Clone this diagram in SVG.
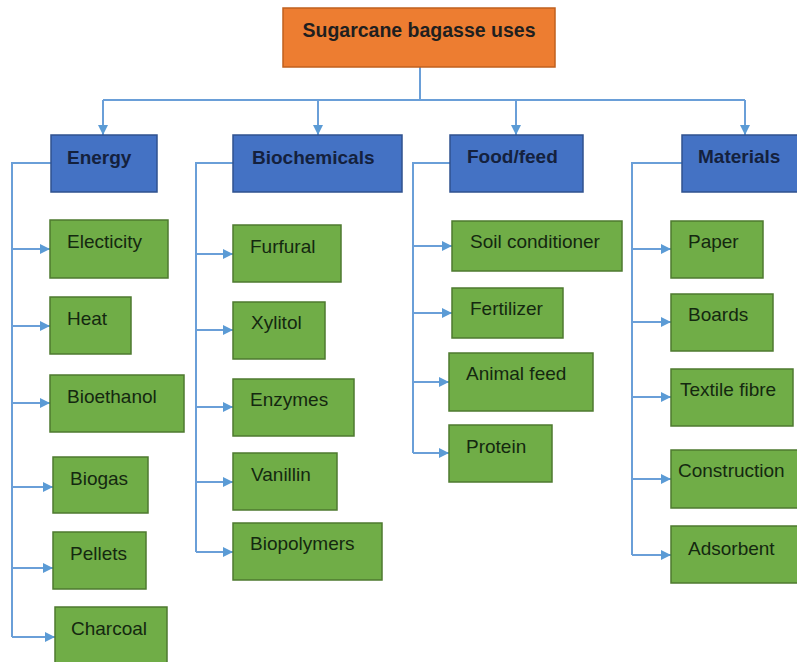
<svg xmlns="http://www.w3.org/2000/svg" width="797" height="662" viewBox="0 0 797 662">
<defs>
<marker id="arr" markerUnits="userSpaceOnUse" markerWidth="10" markerHeight="10" refX="10" refY="5" orient="auto">
<path d="M0,0 L10,5 L0,10 z" fill="#5B9BD5"/>
</marker>
<style>
.root{fill:#ED7D31;stroke:#C0601E;stroke-width:1.5}
.cat{fill:#4472C4;stroke:#2F528F;stroke-width:1.5}
.leaf{fill:#70AD47;stroke:#4E7A2F;stroke-width:1.5}
.tr{font-family:"Liberation Sans",Arial,sans-serif;font-weight:bold;font-size:19.5px;fill:#1F1F1F;text-anchor:middle}
.tc{font-family:"Liberation Sans",Arial,sans-serif;font-weight:bold;font-size:19px;fill:#14213D}
.tl{font-family:"Liberation Sans",Arial,sans-serif;font-size:19px;fill:#142810}
.ln{fill:none;stroke:#6A9FD8;stroke-width:2}
.ar{fill:none;stroke:#6A9FD8;stroke-width:2;marker-end:url(#arr)}
</style>
</defs>
<rect width="797" height="662" fill="#FFFFFF"/>
<g id="connectors">
<path class="ln" d="M420,67 V100 M103,100 H745"/>
<path class="ar" d="M103,100 V135"/>
<path class="ar" d="M318,100 V135"/>
<path class="ar" d="M516,100 V135"/>
<path class="ar" d="M745,100 V135"/>
<path class="ln" d="M51,163 H12 V637"/>
<path class="ar" d="M12,249 H50"/>
<path class="ar" d="M12,326 H50"/>
<path class="ar" d="M12,403 H50"/>
<path class="ar" d="M12,487 H53"/>
<path class="ar" d="M12,568 H53"/>
<path class="ar" d="M12,637 H55"/>
<path class="ln" d="M233,163 H196 V552"/>
<path class="ar" d="M196,254 H233"/>
<path class="ar" d="M196,330 H233"/>
<path class="ar" d="M196,407 H233"/>
<path class="ar" d="M196,482 H233"/>
<path class="ar" d="M196,552 H233"/>
<path class="ln" d="M450,163 H413 V453"/>
<path class="ar" d="M413,246 H452"/>
<path class="ar" d="M413,313 H452"/>
<path class="ar" d="M413,382 H449"/>
<path class="ar" d="M413,453 H449"/>
<path class="ln" d="M682,163 H632 V555"/>
<path class="ar" d="M632,249 H671"/>
<path class="ar" d="M632,322 H671"/>
<path class="ar" d="M632,397 H671"/>
<path class="ar" d="M632,479 H671"/>
<path class="ar" d="M632,555 H671"/>
</g>
<g id="root"><rect class="root" x="283" y="8" width="272" height="59"/><text class="tr" x="419" y="37">Sugarcane bagasse uses</text></g>
<g id="energy"><rect class="cat" x="51" y="135" width="106" height="57"/><text class="tc" x="67" y="164">Energy</text></g>
<g id="biochemicals"><rect class="cat" x="233" y="135" width="169" height="57"/><text class="tc" x="252" y="164">Biochemicals</text></g>
<g id="foodfeed"><rect class="cat" x="450" y="135" width="133" height="57"/><text class="tc" x="467" y="163">Food/feed</text></g>
<g id="materials"><rect class="cat" x="682" y="135" width="116" height="57"/><text class="tc" x="698" y="163">Materials</text></g>
<g id="electicity"><rect class="leaf" x="50" y="220" width="118" height="58"/><text class="tl" x="67" y="248">Electicity</text></g>
<g id="heat"><rect class="leaf" x="50" y="297" width="81" height="57"/><text class="tl" x="67" y="325">Heat</text></g>
<g id="bioethanol"><rect class="leaf" x="50" y="375" width="134" height="57"/><text class="tl" x="67" y="403">Bioethanol</text></g>
<g id="biogas"><rect class="leaf" x="53" y="457" width="95" height="56"/><text class="tl" x="70" y="485">Biogas</text></g>
<g id="pellets"><rect class="leaf" x="53" y="532" width="93" height="57"/><text class="tl" x="70" y="560">Pellets</text></g>
<g id="charcoal"><rect class="leaf" x="55" y="607" width="112" height="58"/><text class="tl" x="71" y="635">Charcoal</text></g>
<g id="furfural"><rect class="leaf" x="233" y="225" width="108" height="57"/><text class="tl" x="250" y="253">Furfural</text></g>
<g id="xylitol"><rect class="leaf" x="233" y="302" width="92" height="57"/><text class="tl" x="251" y="329">Xylitol</text></g>
<g id="enzymes"><rect class="leaf" x="233" y="379" width="121" height="57"/><text class="tl" x="250" y="406">Enzymes</text></g>
<g id="vanillin"><rect class="leaf" x="233" y="453" width="104" height="57"/><text class="tl" x="251" y="481">Vanillin</text></g>
<g id="biopolymers"><rect class="leaf" x="233" y="523" width="149" height="57"/><text class="tl" x="250" y="550">Biopolymers</text></g>
<g id="soil"><rect class="leaf" x="452" y="221" width="170" height="50"/><text class="tl" x="470" y="248">Soil conditioner</text></g>
<g id="fertilizer"><rect class="leaf" x="452" y="288" width="111" height="50"/><text class="tl" x="470" y="315">Fertilizer</text></g>
<g id="animalfeed"><rect class="leaf" x="449" y="353" width="144" height="58"/><text class="tl" x="466" y="380">Animal feed</text></g>
<g id="protein"><rect class="leaf" x="449" y="425" width="103" height="57"/><text class="tl" x="466" y="453">Protein</text></g>
<g id="paper"><rect class="leaf" x="671" y="221" width="92" height="57"/><text class="tl" x="688" y="248">Paper</text></g>
<g id="boards"><rect class="leaf" x="671" y="294" width="102" height="57"/><text class="tl" x="688" y="321">Boards</text></g>
<g id="textile"><rect class="leaf" x="671" y="369" width="122" height="57"/><text class="tl" x="680" y="396">Textile fibre</text></g>
<g id="construction"><rect class="leaf" x="671" y="450" width="127" height="58"/><text class="tl" x="678" y="477">Construction</text></g>
<g id="adsorbent"><rect class="leaf" x="671" y="526" width="127" height="57"/><text class="tl" x="688" y="555">Adsorbent</text></g>
</svg>
